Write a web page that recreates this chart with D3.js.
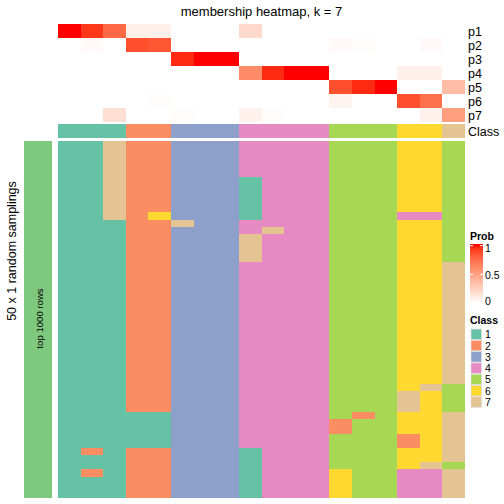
<!DOCTYPE html>
<html><head><meta charset="utf-8">
<script src="https://cdn.jsdelivr.net/npm/d3@7"></script>
<style>body{margin:0;background:#fff}svg{display:block;font-family:"Liberation Sans",Arial,sans-serif}</style>
</head><body><svg id="c" width="504" height="504"></svg>
<script>
const samples = d3.range(18).map(i => "s" + (i + 1));
const probRows = ["p1","p2","p3","p4","p5","p6","p7"];
const p1 = [1.00,0.92,0.75,0.08,0.08,0,0,0,0.20,0,0,0,0,0,0,0,0,0];
const p2 = [0,0.03,0,0.85,0.82,0,0,0,0,0,0,0,0.03,0.015,0,0,0.03,0];
const p3 = [0,0,0,0,0,0.95,1.00,1.00,0,0,0,0,0,0,0,0,0,0];
const p4 = [0,0,0,0,0,0,0,0,0.60,0.95,1.00,1.00,0,0,0,0.08,0.08,0];
const p5 = [0,0,0,0,0,0,0,0,0,0,0,0,0.85,0.95,1.00,0,0,0.35];
const p6 = [0,0,0,0,0.015,0,0,0,0,0,0,0,0.06,0,0,0.85,0.72,0];
const p7 = [0,0,0.17,0,0,0.015,0,0,0.07,0.015,0,0,0,0,0,0,0.07,0.50];
const sampleClass = [1,1,1,2,2,3,3,3,4,4,4,4,5,5,5,6,6,7];
const classLabels = ["1","2","3","4","5","6","7"];
const classColors = ["#66C2A5","#FC8D62","#8DA0CB","#E78AC3","#A6D854","#FFD92F","#E5C494"];
const probTicks = [0, 0.5, 1];
// 50 random samplings (rows) x 18 samples (chars = class)
const samplings = [
"117223334444555665","117223334444555665","117223334444555665","117223334444555665","117223334444555665",
"117223331444555665","117223331444555665","117223331444555665","117223331444555665","117223331444555665",
"117263331444555445",
"111227334444555665",
"111223334744555665",
"111223337444555665","111223337444555665","111223337444555665","111223337444555665",
"111223334444555667","111223334444555667","111223334444555667","111223334444555667","111223334444555667",
"111223334444555667","111223334444555667","111223334444555667","111223334444555667","111223334444555667",
"111223334444555667","111223334444555667","111223334444555667","111223334444555667","111223334444555667",
"111223334444555667","111223334444555667",
"111223334444555675",
"111223334444555765","111223334444555765","111223334444555765",
"111113334444525667",
"111113334444255667","111113334444255667",
"111113334444555267","111113334444555267",
"121223331444555667",
"111223331444555667",
"111223331444555675",
"121223331444655447",
"111223331444655447","111223331444655447","111223331444655447"
];

const svg = d3.select("#c");
const probs = [p1,p2,p3,p4,p5,p6,p7];
const x = d3.scaleBand().domain(samples).range([58, 465]);
const yTop = d3.scaleBand().domain(probRows).range([24, 122]);
const yBot = d3.scaleBand().domain(d3.range(samplings.length)).range([141, 498]);
const probColor = d3.scaleLinear().domain([0,1]).range(["#ffffff","#ff0000"]).interpolate(d3.interpolateLab);
const classColor = d3.scaleOrdinal().domain([1,2,3,4,5,6,7]).range(classColors);

// title
svg.append("text").attr("x", 261.5).attr("y", 16).attr("text-anchor","middle")
  .attr("font-size", 13).text("membership heatmap, k = 7");

// prob heatmap
probRows.forEach((r, ri) => {
  svg.append("g").selectAll("rect").data(probs[ri]).join("rect")
    .attr("x", (d,i) => x(samples[i])).attr("y", yTop(r))
    .attr("width", x.bandwidth() + 0.3).attr("height", yTop.bandwidth() + 0.3)
    .attr("fill", d => probColor(d)).attr("shape-rendering","crispEdges");
  svg.append("text").attr("x", 468).attr("y", yTop(r) + yTop.bandwidth()/2)
    .attr("dy","0.36em").attr("font-size", 12.5).text(r);
});
// class row
svg.append("g").selectAll("rect").data(sampleClass).join("rect")
  .attr("x", (d,i) => x(samples[i])).attr("y", 124)
  .attr("width", x.bandwidth() + 0.3).attr("height", 14)
  .attr("fill", d => classColor(d)).attr("shape-rendering","crispEdges");
svg.append("text").attr("x", 468).attr("y", 131).attr("dy","0.36em").attr("font-size", 12.5).text("Class");

// bottom samplings heatmap
samplings.forEach((row, ri) => {
  svg.append("g").selectAll("rect").data(row.split("").map(Number)).join("rect")
    .attr("x", (d,i) => x(samples[i])).attr("y", yBot(ri))
    .attr("width", x.bandwidth() + 0.3).attr("height", yBot.bandwidth() + 0.3)
    .attr("fill", d => classColor(d)).attr("shape-rendering","crispEdges");
});

// left strip
svg.append("rect").attr("x", 24).attr("y", 141).attr("width", 28).attr("height", 357).attr("fill", "#7FC97F");
svg.append("text").attr("transform", "translate(42.5,318.5) rotate(-90)").attr("text-anchor","middle")
  .attr("font-size", 9.6).text("top 1000 rows");
svg.append("text").attr("transform", "translate(16,251) rotate(-90)").attr("text-anchor","middle")
  .attr("font-size", 12.5).text("50 x 1 random samplings");

// Prob legend
svg.append("text").attr("x", 470).attr("y", 240).attr("font-size", 10.5).attr("font-weight","bold").text("Prob");
const defs = svg.append("defs");
const grad = defs.append("linearGradient").attr("id","pg").attr("x1",0).attr("y1",1).attr("x2",0).attr("y2",0);
d3.range(0, 1.01, 0.1).forEach(t => grad.append("stop").attr("offset", t).attr("stop-color", probColor(t)));
const yLeg = d3.scaleLinear().domain([0,1]).range([303, 245.7]);
svg.append("rect").attr("x", 470).attr("y", 244).attr("width", 13).attr("height", 59).attr("fill","url(#pg)");
probTicks.forEach(t => {
  if (t > 0) {
    svg.append("line").attr("x1",470).attr("x2",473).attr("y1",yLeg(t)).attr("y2",yLeg(t)).attr("stroke","#fff");
    svg.append("line").attr("x1",480).attr("x2",483).attr("y1",yLeg(t)).attr("y2",yLeg(t)).attr("stroke","#fff");
  }
  const off = t === 1 ? 2.5 : (t === 0 ? -1.5 : 0.5);
  svg.append("text").attr("x", 485).attr("y", yLeg(t) + off).attr("dy","0.36em").attr("font-size", 10.5).text(String(t));
});

// Class legend
svg.append("text").attr("x", 470).attr("y", 324).attr("font-size", 10.5).attr("font-weight","bold").text("Class");
classLabels.forEach((c, i) => {
  const yy = 329 + i * 11.3;
  svg.append("rect").attr("x", 471).attr("y", yy).attr("width", 10.5).attr("height", 10.5)
    .attr("fill", classColors[i]).attr("stroke", "#ddd").attr("stroke-width", 0.8);
  svg.append("text").attr("x", 485).attr("y", yy + 5.5).attr("dy","0.36em").attr("font-size", 10.5).text(c);
});
</script></body></html>
